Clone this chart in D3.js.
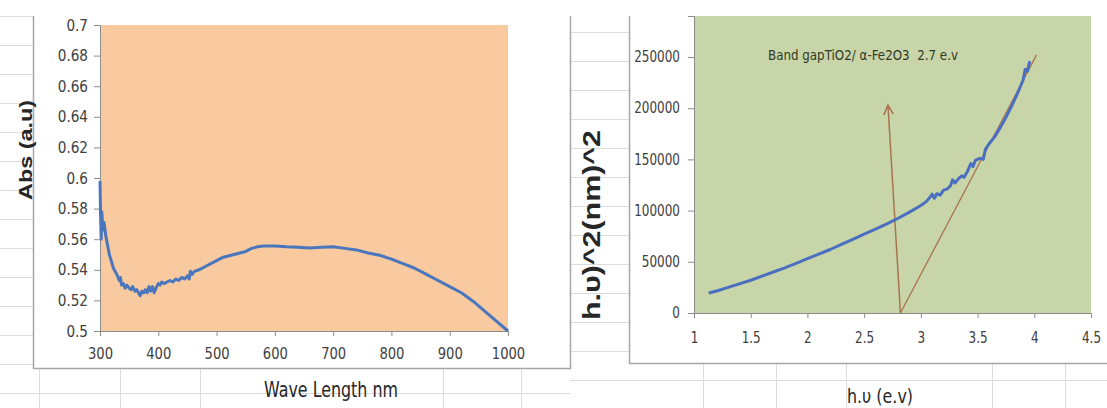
<!DOCTYPE html>
<html>
<head>
<meta charset="utf-8">
<script src="https://cdn.jsdelivr.net/npm/d3@7"></script>
<style>
  body { margin: 0; background: #fff; }
  svg { display: block; }
  .tick text { font-family: "DejaVu Sans", sans-serif; fill: #404040; }
  .domain, .tick line { stroke: #8c8c8c; }
</style>
</head>
<body>
<svg id="chart"></svg>
<script>
// absorbance spectrum (left)
const wavelength = [300, 301, 302, 303, 305, 307, 310, 313, 316, 320, 323, 326, 330, 333, 335, 337, 340, 343, 346, 350,
  353, 356, 360, 363, 366, 369, 372, 375, 378, 381, 384, 387, 390, 393, 396, 400, 403, 406, 410, 415,
  420, 425, 430, 435, 440, 445, 450, 453, 455, 458, 462, 470, 480, 490, 500, 510, 520, 530, 540, 550,
  560, 570, 580, 600, 620, 640, 660, 680, 700, 720, 740, 760, 780, 800, 820, 840, 860, 880, 900, 920,
  940, 960, 980, 1000];
const absorbance = [0.598, 0.575, 0.560, 0.578, 0.566, 0.571, 0.562, 0.556, 0.550, 0.545, 0.541, 0.539, 0.536, 0.533, 0.535, 0.530, 0.531, 0.528, 0.530, 0.528,
  0.527, 0.529, 0.526, 0.527, 0.525, 0.523, 0.526, 0.525, 0.527, 0.525, 0.529, 0.526, 0.529, 0.525, 0.528, 0.531, 0.530, 0.532, 0.531, 0.532,
  0.533, 0.532, 0.534, 0.533, 0.535, 0.534, 0.536, 0.534, 0.539, 0.537, 0.539, 0.540, 0.542, 0.544, 0.546, 0.548, 0.549, 0.550, 0.551, 0.552,
  0.554, 0.555, 0.5555, 0.5555, 0.555, 0.5548, 0.5543, 0.5548, 0.555, 0.554, 0.553, 0.551, 0.5495, 0.547, 0.544, 0.541, 0.537, 0.533, 0.529, 0.525,
  0.5195, 0.513, 0.5065, 0.5];
const absTicks = [0.5, 0.52, 0.54, 0.56, 0.58, 0.6, 0.62, 0.64, 0.66, 0.68, 0.7];
const waveTicks = [300, 400, 500, 600, 700, 800, 900, 1000];

// tauc plot (right)
const energy = [1.13, 1.2, 1.3, 1.4, 1.5, 1.6, 1.7, 1.8, 1.9, 2.0, 2.1, 2.2, 2.3, 2.4, 2.5, 2.6, 2.7, 2.8, 2.9, 3.0,
  3.05, 3.08, 3.1, 3.12, 3.14, 3.17, 3.2, 3.23, 3.26, 3.28, 3.3, 3.33, 3.36, 3.38, 3.41, 3.44, 3.46, 3.48, 3.52, 3.55,
  3.57, 3.6, 3.65, 3.7, 3.75, 3.8, 3.85, 3.9, 3.92, 3.94, 3.96];
const tauc = [19500, 21500, 25000, 28500, 32000, 36000, 40000, 44000, 48500, 53000, 57500, 62000, 67000, 72000, 77000, 82000, 87000, 92500, 98500, 105000,
  109000, 113000, 116000, 112000, 116500, 115000, 120000, 121000, 124000, 130000, 127000, 131000, 134000, 132500, 138000, 146000, 143000, 149000, 151000, 150000,
  160000, 165000, 172000, 181000, 191000, 202000, 214000, 227000, 238000, 236000, 246000];
const taucTicks = [0, 50000, 100000, 150000, 200000, 250000];
const energyTicks = [1, 1.5, 2, 2.5, 3, 3.5, 4, 4.5];
// hand-drawn lines: [x0, y0, x1, y1]
const arrowLine = [2.82, 0, 2.71, 203000];
const fitLine = [2.82, 0, 4.02, 252000];
const noteText = "Band gapTiO2/ α-Fe2O3  2.7 e.v";

const W = 1107, H = 408;
const svg = d3.select("#chart").attr("width", W).attr("height", H);

// narrow the tick labels horizontally (Calibri-like look)
function squeeze(g, sx) {
  g.selectAll(".tick text").each(function () {
    const t = d3.select(this);
    const x0 = +t.attr("x") || 0;
    t.attr("x", 0).attr("transform", `translate(${x0},0) scale(${sx},1)`);
  });
}

// spreadsheet grid behind the charts
const grid = svg.append("g").attr("stroke", "#dcdcdc").attr("stroke-width", 1);
d3.range(16.5, 370, 29).forEach(y => grid.append("line").attr("x1", 0).attr("x2", 33).attr("y1", y).attr("y2", y));
grid.append("line").attr("x1", 0).attr("x2", 570).attr("y1", 393.5).attr("y2", 393.5);
[39.5, 120.5, 200.5, 443.5, 521.5].forEach(x => grid.append("line").attr("x1", x).attr("x2", x).attr("y1", 368).attr("y2", H));
d3.range(32.5, 364, 29).forEach(y => grid.append("line").attr("x1", 570).attr("x2", 629).attr("y1", y).attr("y2", y));
grid.append("line").attr("x1", 570).attr("x2", W).attr("y1", 380.5).attr("y2", 380.5);
[703.5, 776.5, 846.5, 992.5, 1065.5].forEach(x => grid.append("line").attr("x1", x).attr("x2", x).attr("y1", 363).attr("y2", H));

// chart frames
const frame = svg.append("g").attr("stroke", "#a6a6a6").attr("fill", "none").attr("stroke-width", 1.5);
frame.append("path").attr("d", "M33.5,16V368.5H570.5V16");
frame.append("path").attr("d", "M629.5,16V363.5H1107");

// ---- left chart ----
const x1 = d3.scaleLinear().domain([300, 1000]).range([100, 508]);
const y1 = d3.scaleLinear().domain([0.5, 0.7]).range([331, 25]);

svg.append("rect").attr("x", x1(300)).attr("y", y1(0.7))
  .attr("width", x1(1000) - x1(300)).attr("height", y1(0.5) - y1(0.7)).attr("fill", "#f9c9a0");

svg.append("g").attr("transform", `translate(0,${y1(0.5)})`)
  .call(d3.axisBottom(x1).tickValues(waveTicks).tickFormat(d3.format("d")).tickSize(5).tickPadding(12))
  .call(g => g.selectAll("text").style("font-size", "16px"))
  .call(g => squeeze(g, 0.82));
svg.append("g").attr("transform", `translate(${x1(300)},0)`)
  .call(d3.axisLeft(y1).tickValues(absTicks).tickFormat(d => String(d)).tickSize(6).tickPadding(6))
  .call(g => g.selectAll("text").style("font-size", "16px"))
  .call(g => squeeze(g, 0.85));

svg.append("path")
  .datum(wavelength.map((w, i) => [w, absorbance[i]]))
  .attr("fill", "none").attr("stroke", "#4a76bd").attr("stroke-width", 3).attr("stroke-linejoin", "round")
  .attr("d", d3.line().x(d => x1(d[0])).y(d => y1(d[1])));

svg.append("text").attr("transform", "translate(32,150) rotate(-90)")
  .attr("text-anchor", "middle").attr("font-family", "Liberation Sans, Arial, sans-serif")
  .attr("font-weight", "bold").attr("font-size", 19).attr("fill", "#262626")
  .attr("textLength", 100).attr("lengthAdjust", "spacingAndGlyphs").text("Abs (a.u)");
svg.append("text").attr("x", 331).attr("y", 397).attr("text-anchor", "middle")
  .attr("font-family", "DejaVu Sans, sans-serif")
  .attr("font-size", 21).attr("fill", "#262626")
  .attr("textLength", 134).attr("lengthAdjust", "spacingAndGlyphs").text("Wave Length nm");

// ---- right chart ----
const x2 = d3.scaleLinear().domain([1, 4.5]).range([694, 1091]);
const y2 = d3.scaleLinear().domain([0, 290000]).range([313, 16]);

svg.append("rect").attr("x", x2(1)).attr("y", y2(290000))
  .attr("width", x2(4.5) - x2(1)).attr("height", y2(0) - y2(290000)).attr("fill", "#c8d5a9");

svg.append("g").attr("transform", `translate(0,${y2(0)})`)
  .call(d3.axisBottom(x2).tickValues(energyTicks).tickFormat(d => String(d)).tickSize(5).tickPadding(14))
  .call(g => g.selectAll("text").style("font-size", "15px"))
  .call(g => squeeze(g, 0.8));
svg.append("g").attr("transform", `translate(${x2(1)},0)`)
  .call(d3.axisLeft(y2).tickValues(taucTicks).tickFormat(d3.format("d")).tickSize(6).tickPadding(8))
  .call(g => g.selectAll("text").style("font-size", "15px"))
  .call(g => squeeze(g, 0.8));

svg.append("defs").append("marker")
  .attr("id", "head").attr("viewBox", "0 0 10 10").attr("refX", 8).attr("refY", 5)
  .attr("markerWidth", 8).attr("markerHeight", 8).attr("orient", "auto")
  .append("path").attr("d", "M0,1L8,5L0,9").attr("fill", "none").attr("stroke", "#a8734f").attr("stroke-width", 1.3);

svg.append("line")
  .attr("x1", x2(arrowLine[0])).attr("y1", y2(arrowLine[1])).attr("x2", x2(arrowLine[2])).attr("y2", y2(arrowLine[3]))
  .attr("stroke", "#a8734f").attr("stroke-width", 1.5).attr("marker-end", "url(#head)");
svg.append("line")
  .attr("x1", x2(fitLine[0])).attr("y1", y2(fitLine[1])).attr("x2", x2(fitLine[2])).attr("y2", y2(fitLine[3]))
  .attr("stroke", "#a8734f").attr("stroke-width", 1.3);

svg.append("path")
  .datum(energy.map((e, i) => [e, tauc[i]]))
  .attr("fill", "none").attr("stroke", "#4a6fc0").attr("stroke-width", 3).attr("stroke-linejoin", "round")
  .attr("d", d3.line().x(d => x2(d[0])).y(d => y2(d[1])));

svg.append("text").attr("x", 768).attr("y", 60)
  .attr("font-family", "DejaVu Sans, sans-serif")
  .attr("font-size", 14).attr("fill", "#343a26").style("white-space", "pre")
  .attr("textLength", 190).attr("lengthAdjust", "spacingAndGlyphs").text(noteText);

svg.append("text").attr("transform", "translate(600,225) rotate(-90)")
  .attr("text-anchor", "middle").attr("font-family", "Liberation Sans, Arial, sans-serif")
  .attr("font-weight", "bold").attr("font-size", 23).attr("fill", "#262626")
  .attr("textLength", 190).attr("lengthAdjust", "spacingAndGlyphs").text("h.υ)^2(nm)^2");
svg.append("text").attr("x", 880).attr("y", 403).attr("text-anchor", "middle")
  .attr("font-family", "DejaVu Sans, sans-serif")
  .attr("font-size", 20).attr("fill", "#262626")
  .attr("textLength", 66).attr("lengthAdjust", "spacingAndGlyphs").text("h.υ (e.v)");
</script>
</body>
</html>
